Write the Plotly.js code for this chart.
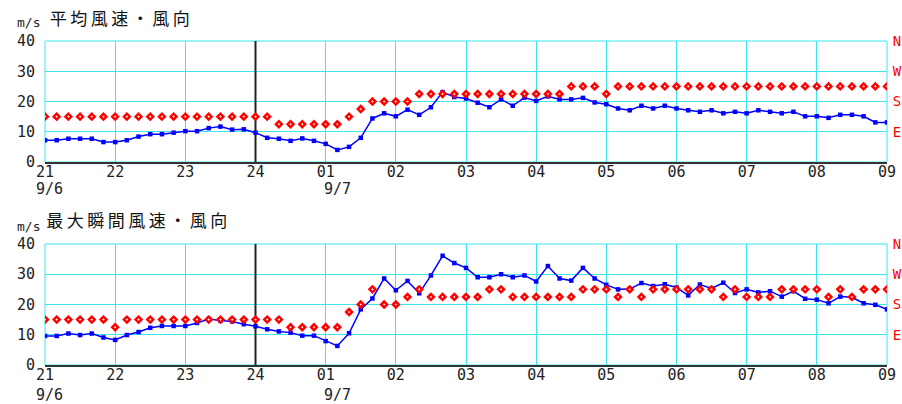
<!DOCTYPE html>
<html>
<head>
<meta charset="utf-8">
<script src="https://cdn.plot.ly/plotly-3.0.1.min.js"></script>
<style>
  html, body { margin: 0; padding: 0; background: #fff; }
  #chart { width: 902px; height: 404px; }
</style>
</head>
<body>
<div id="chart"></div>
<script>
// ---- data (10-minute samples, 9/6 21:00 .. 9/7 09:00) ----
const startTime = '2020-09-06 21:00';
const endTime = '2020-09-07 09:00';
const sampleCount = 73;

const avgSpeed = [
  7.2, 7.2, 7.7, 7.7, 7.7, 6.6,
  6.6, 7.2, 8.4, 9.2, 9.2, 9.7,
  10.2, 10.2, 11.2, 11.7, 10.7, 10.8,
  9.7, 8.0, 7.7, 7.0, 7.8, 7.0,
  6.0, 4.0, 5.0, 8.0, 14.4, 16.1,
  15.1, 17.3, 15.6, 18.1, 23.1, 21.5,
  21.0, 19.6, 18.1, 20.7, 18.6, 21.3,
  20.2, 21.7, 20.7, 20.7, 21.2, 19.7,
  19.1, 17.7, 17.1, 18.6, 17.7, 18.6,
  17.7, 17.1, 16.6, 17.1, 16.1, 16.6,
  16.1, 17.1, 16.6, 16.1, 16.6, 15.1,
  15.1, 14.6, 15.6, 15.6, 15.1, 13.1,
  13.1
];
const avgDir = [
  'SE','SE','SE','SE','SE','SE',
  'SE','SE','SE','SE','SE','SE',
  'SE','SE','SE','SE','SE','SE',
  'SE','SE','ESE','ESE','ESE','ESE',
  'ESE','ESE','SE','SSE','S','S',
  'S','S','SSW','SSW','SSW','SSW',
  'SSW','SSW','SSW','SSW','SSW','SSW',
  'SSW','SSW','SSW','SW','SW','SW',
  'SSW','SW','SW','SW','SW','SW',
  'SW','SW','SW','SW','SW','SW',
  'SW','SW','SW','SW','SW','SW',
  'SW','SW','SW','SW','SW','SW',
  'SW'
];
const gustSpeed = [
  9.6, 9.6, 10.4, 9.9, 10.4, 9.1,
  8.3, 9.9, 10.9, 12.3, 12.9, 12.9,
  12.9, 13.9, 15.2, 14.7, 14.4, 13.5,
  12.8, 11.8, 11.1, 10.7, 9.7, 9.7,
  7.9, 6.3, 10.5, 18.4, 22.0, 28.6,
  24.7, 27.8, 23.7, 29.6, 36.1, 33.7,
  32.1, 29.0, 29.0, 30.0, 29.0, 29.6,
  27.6, 32.7, 28.6, 27.9, 32.1, 28.6,
  26.5, 25.0, 25.1, 27.1, 26.1, 26.7,
  25.6, 23.0, 26.6, 25.3, 27.2, 23.8,
  25.0, 24.0, 24.4, 22.6, 24.4, 21.9,
  21.6, 20.4, 22.6, 22.4, 20.4, 19.9,
  18.4
];
const gustDir = [
  'SE','SE','SE','SE','SE','SE',
  'ESE','SE','SE','SE','SE','SE',
  'SE','SE','SE','SE','SE','SE',
  'SE','SE','SE','ESE','ESE','ESE',
  'ESE','ESE','SSE','S','SW','S',
  'S','SSW','SW','SSW','SSW','SSW',
  'SSW','SSW','SW','SW','SSW','SSW',
  'SSW','SSW','SSW','SSW','SW','SW',
  'SW','SSW','SW','SSW','SW','SW',
  'SW','SW','SW','SW','SSW','SW',
  'SSW','SSW','SSW','SW','SW','SW',
  'SW','SSW','SW','SSW','SW','SW',
  'SW'
];
// compass point -> position on the 0..40 scale (E=10, S=20, W=30, N=40)
const dirPos = { E:10, ESE:12.5, SE:15, SSE:17.5, S:20, SSW:22.5, SW:25, WSW:27.5,
                 W:30, WNW:32.5, NW:35, NNW:37.5, N:40 };

const tickTimes = [
  '2020-09-06 21:00','2020-09-06 22:00','2020-09-06 23:00','2020-09-07 00:00',
  '2020-09-07 01:00','2020-09-07 02:00','2020-09-07 03:00','2020-09-07 04:00',
  '2020-09-07 05:00','2020-09-07 06:00','2020-09-07 07:00','2020-09-07 08:00',
  '2020-09-07 09:00'
];
const tickLabels = ['21','22','23','24','01','02','03','04','05','06','07','08','09'];
const dateLabels = ['9/6', '9/7'];
const dateLabelTimes = ['2020-09-06 21:00', '2020-09-07 01:00'];
const midnight = '2020-09-07 00:00';
const speedTicks = [0, 10, 20, 30, 40];
const compassTicks = [10, 20, 30, 40];
const compassLabels = ['E', 'S', 'W', 'N'];
const titleTop = '平均風速・風向';
const titleBottom = '最大瞬間風速・風向';
const unitLabel = 'm/s';

// sampling grid timestamps
const times = [];
(function () {
  const t0 = new Date(startTime.replace(' ', 'T') + ':00Z').getTime();
  for (let i = 0; i < sampleCount; i++) {
    const d = new Date(t0 + i * 600000);
    times.push(d.toISOString().slice(0, 16).replace('T', ' '));
  }
})();

// ---- styling ----
const CYAN = '#3de6ee';
const BLUE = '#0000ff';
const RED = '#ff0000';
const NUMFONT = { family: 'DejaVu Sans Mono, monospace', size: 15, color: '#222' };
const UNITFONT = { family: 'DejaVu Sans Mono, monospace', size: 13, color: '#222' };
const JPFONT = { family: 'Noto Sans CJK JP, sans-serif', size: 17, color: '#111' };

function speedTrace(y, xa, ya) {
  return { type: 'scatter', mode: 'lines+markers', x: times, y: y, xaxis: xa, yaxis: ya,
    line: { color: BLUE, width: 1.5 }, marker: { symbol: 'square', size: 4.5, color: BLUE },
    hoverinfo: 'skip' };
}
function dirTrace(d, xa, ya) {
  return { type: 'scatter', mode: 'markers', x: times, y: d.map(k => dirPos[k]), xaxis: xa, yaxis: ya,
    marker: { symbol: 'diamond', size: 4.5, color: '#ffffff', line: { color: RED, width: 2.5 } },
    hoverinfo: 'skip' };
}
function midnightTrace(xa, ya) {
  return { type: 'scatter', mode: 'lines', x: [midnight, midnight], y: [0, 40], xaxis: xa, yaxis: ya,
    line: { color: '#222', width: 2 }, hoverinfo: 'skip' };
}

const data = [
  midnightTrace('x', 'y'),
  speedTrace(avgSpeed, 'x', 'y'),
  dirTrace(avgDir, 'x', 'y3'),
  midnightTrace('x2', 'y2'),
  speedTrace(gustSpeed, 'x2', 'y2'),
  dirTrace(gustDir, 'x2', 'y4')
];

function xAxis(anchor) {
  return { anchor: anchor, domain: [0, 1], type: 'date', range: [startTime, endTime],
    tickvals: tickTimes, ticktext: tickLabels, tickangle: 0,
    showgrid: true, gridcolor: CYAN, gridwidth: 1,
    showline: true, linecolor: '#333', linewidth: 2, zeroline: false,
    ticks: '', ticklabelstandoff: -5, tickfont: NUMFONT, fixedrange: true };
}
function yAxis(anchor, domain) {
  return { anchor: anchor, domain: domain, range: [0, 40], tickvals: speedTicks,
    showgrid: true, gridcolor: CYAN, gridwidth: 1, zeroline: false, showline: false,
    ticks: 'outside', ticklen: 6, tickcolor: 'rgba(0,0,0,0)', tickfont: NUMFONT, fixedrange: true };
}
function dirAxis(over, anchor) {
  return { overlaying: over, anchor: anchor, side: 'right', range: [0, 40],
    tickvals: compassTicks, ticktext: compassLabels, showgrid: false, zeroline: false,
    showline: false, ticks: 'outside', ticklen: 2, tickcolor: 'rgba(0,0,0,0)',
    tickfont: { family: 'DejaVu Sans Mono, monospace', size: 14, color: RED }, fixedrange: true };
}

const topDom = [0.6265, 1];
const botDom = [0, 0.3735];

const annotations = [
  { text: titleTop, xref: 'paper', yref: 'paper', x: 0.0178, y: 1.074,
    xanchor: 'left', yanchor: 'middle', showarrow: false, font: JPFONT },
  { text: unitLabel, xref: 'paper', yref: 'paper', x: -0.0356, y: 1.056,
    xanchor: 'left', yanchor: 'middle', showarrow: false, font: UNITFONT },
  { text: titleBottom, xref: 'paper', yref: 'paper', x: 0.0178, y: 0.4506,
    xanchor: 'left', yanchor: 'middle', showarrow: false, font: JPFONT },
  { text: unitLabel, xref: 'paper', yref: 'paper', x: -0.0356, y: 0.428,
    xanchor: 'left', yanchor: 'middle', showarrow: false, font: UNITFONT }
];
// second-line date labels under the hour ticks
const dateY = [0.543, -0.092];
const dateShift = [4, 12];
dateY.forEach(function (yy) {
  dateLabels.forEach(function (lbl, i) {
    annotations.push({ text: lbl, xref: 'x', yref: 'paper', x: dateLabelTimes[i], y: yy,
      xanchor: 'center', yanchor: 'middle', xshift: dateShift[i], showarrow: false, font: NUMFONT });
  });
});

const layout = {
  width: 902, height: 404,
  margin: { l: 45, r: 15, t: 41, b: 39 },
  paper_bgcolor: '#fff', plot_bgcolor: '#fff',
  showlegend: false,
  xaxis: xAxis('y'),
  yaxis: yAxis('x', topDom),
  yaxis3: dirAxis('y', 'x'),
  xaxis2: xAxis('y2'),
  yaxis2: yAxis('x2', botDom),
  yaxis4: dirAxis('y2', 'x2'),
  shapes: [
    { type: 'rect', xref: 'paper', yref: 'paper', x0: 0, x1: 1, y0: topDom[0], y1: topDom[1],
      line: { color: CYAN, width: 1 }, layer: 'below' },
    { type: 'rect', xref: 'paper', yref: 'paper', x0: 0, x1: 1, y0: botDom[0], y1: botDom[1],
      line: { color: CYAN, width: 1 }, layer: 'below' }
  ],
  annotations: annotations
};

Plotly.newPlot('chart', data, layout, { staticPlot: true, displayModeBar: false }).then(function () {
  document.querySelectorAll('.annotation-text').forEach(function (el) {
    if (/[^\x00-\x7f]/.test(el.textContent)) el.style.letterSpacing = '3.5px';
  });
});
</script>
</body>
</html>
